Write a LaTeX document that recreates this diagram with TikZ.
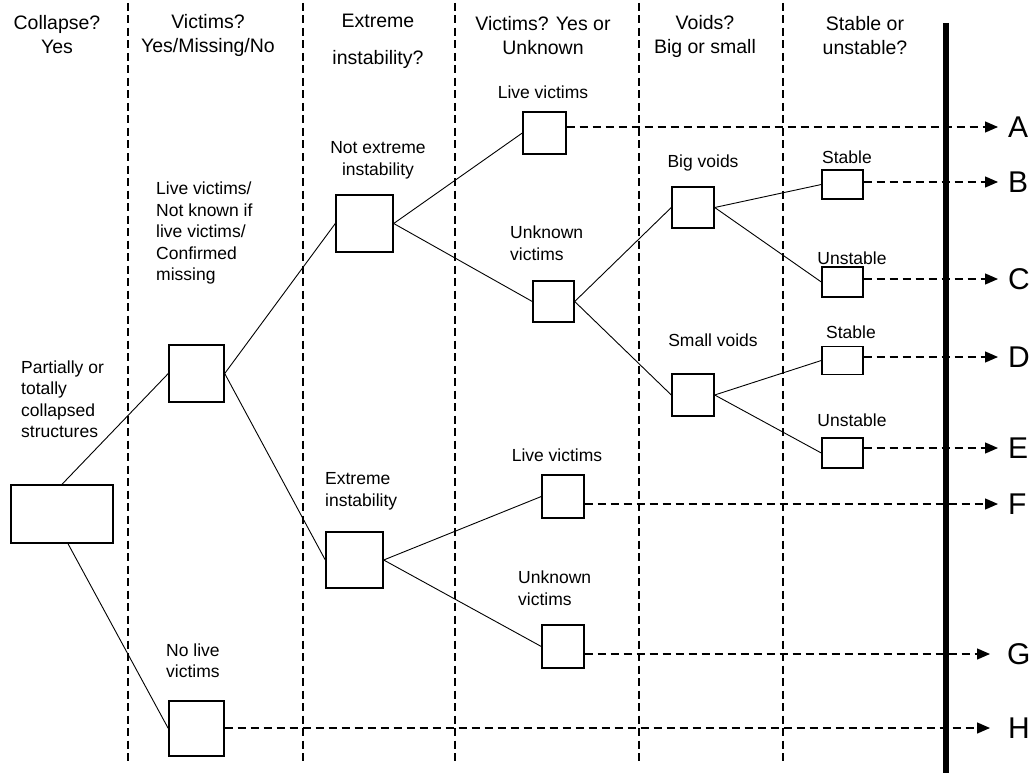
\documentclass[tikz,border=0pt]{standalone}
\usepackage{fontspec}
\setmainfont{Liberation Sans}
\usetikzlibrary{arrows.meta}
\begin{document}
\begin{tikzpicture}[x=1pt,y=-1pt,
  bx/.style={draw, line width=1.4pt, inner sep=0pt},
  hdr/.style={font=\fontsize{19.5}{24}\selectfont, align=center, inner sep=0pt},
  lbl/.style={font=\fontsize{17.5}{21.5}\selectfont, inner sep=0pt},
  ltr/.style={font=\fontsize{30}{30}\selectfont, inner sep=0pt, anchor=west},
  conn/.style={line width=0.9pt},
  vdash/.style={line width=1.1pt, dash pattern=on 8pt off 4.5pt},
  hdash/.style={line width=1.3pt, dash pattern=on 8pt off 5pt},
  arr/.style={hdash, -{Triangle[length=13pt,width=11pt]}}
]
\useasboundingbox (0,0) rectangle (1033,773);

% column separators
\foreach \xx in {128,303,455,639,783}
  \draw[vdash] (\xx,3) -- (\xx,762);
% thick bar
\draw[line width=6pt] (946,23) -- (946,773);

% headers
\node[hdr] (h1) at (57,35) {Collapse?\\Yes};
\node[hdr] (h2) at (208,35) {Victims?\\Yes/Missing/No};
\node[hdr] (h3) at (378,41) {Extreme\\[13pt]instability?};
\node[hdr] (h4) at (543,36) {Victims? Yes or\\Unknown};
\node[hdr] (h5) at (705,36) {Voids?\\Big or small};
\node[hdr] (h6) at (865,35.5) {Stable or\\unstable?};

% boxes
\node[bx, minimum width=102pt, minimum height=58pt] (root) at (62,514) {};
\node[bx, minimum width=55pt, minimum height=57pt] (vic) at (196.5,373.5) {};
\node[bx, minimum width=55pt, minimum height=55pt] (nolive) at (196.5,728.5) {};
\node[bx, minimum width=57pt, minimum height=57pt] (notext) at (364.5,223.5) {};
\node[bx, minimum width=57pt, minimum height=56pt] (ext) at (354.5,560) {};
\node[bx, minimum width=43pt, minimum height=42pt] (liveA) at (544.5,133) {};
\node[bx, minimum width=41pt, minimum height=41pt] (unkT) at (553.5,301.5) {};
\node[bx, minimum width=42pt, minimum height=41pt] (big) at (693,207.5) {};
\node[bx, minimum width=42pt, minimum height=42pt] (small) at (693,395) {};
\node[bx, minimum width=42pt, minimum height=43pt] (liveF) at (563,496.5) {};
\node[bx, minimum width=42pt, minimum height=43pt] (unkB) at (563,646.5) {};
\node[bx, minimum width=41pt, minimum height=29pt] (stB) at (842.5,184.5) {};
\node[bx, minimum width=41pt, minimum height=30pt] (unC) at (842.5,282) {};
\node[bx, minimum width=41pt, minimum height=28pt] (stD) at (842.5,360.5) {};
\node[bx, minimum width=41pt, minimum height=30pt] (unE) at (842.5,453) {};

% labels
\node[lbl, align=left, anchor=west] (lroot) at (21,399) {Partially or\\totally\\collapsed\\structures};
\node[lbl, align=left, anchor=west] (lvic) at (156,233) {Live victims/\\Not known if\\live victims/\\Confirmed\\missing};
\node[lbl, align=left, anchor=west] (lnolive) at (166,660.5) {No live\\victims};
\node[lbl, align=center] (lnotext) at (378,160.5) {Not extreme\\instability};
\node[lbl, align=left, anchor=west] (lext) at (325,491.5) {Extreme\\instability};
\node[lbl] (lliveA) at (543,92) {Live victims};
\node[lbl, align=left, anchor=west] (lunkT) at (510,243) {Unknown\\victims};
\node[lbl] (lliveF) at (557,455) {Live victims};
\node[lbl, align=left, anchor=west] (lunkB) at (518,588) {Unknown\\victims};
\node[lbl] (lbig) at (703,163) {Big voids};
\node[lbl] (lsmall) at (713,340) {Small voids};
\node[lbl] (lstB) at (847,157) {Stable};
\node[lbl] (lunC) at (852,258) {Unstable};
\node[lbl] (lstD) at (851,332) {Stable};
\node[lbl] (lunE) at (852,420) {Unstable};

% outcome letters
\node[ltr] (LA) at (1008,127) {A};
\node[ltr] (LB) at (1008,182) {B};
\node[ltr] (LC) at (1008,279) {C};
\node[ltr] (LD) at (1008,357) {D};
\node[ltr] (LE) at (1008,448) {E};
\node[ltr] (LF) at (1008,504) {F};
\node[ltr] (LG) at (1007,654) {G};
\node[ltr] (LH) at (1008,728) {H};

% tree connectors
\draw[conn] (root.north) -- (vic.west);
\draw[conn] ([xshift=6pt]root.south) -- (nolive.west);
\draw[conn] (vic.east) -- (notext.west);
\draw[conn] (vic.east) -- (ext.west);
\draw[conn] (notext.east) -- (liveA.west);
\draw[conn] (notext.east) -- (unkT.west);
\draw[conn] (ext.east) -- (liveF.west);
\draw[conn] (ext.east) -- (unkB.west);
\draw[conn] (unkT.east) -- (big.west);
\draw[conn] (unkT.east) -- (small.west);
\draw[conn] (big.east) -- (stB.west);
\draw[conn] (big.east) -- (unC.west);
\draw[conn] (small.east) -- (stD.west);
\draw[conn] (small.east) -- (unE.west);

% outcome arrows
\draw[arr] (liveA.east |- LA.west) -- ([xshift=-10pt]LA.west);
\draw[arr] (stB.east |- LB.west) -- ([xshift=-10pt]LB.west);
\draw[arr] (unC.east |- LC.west) -- ([xshift=-10pt]LC.west);
\draw[arr] (stD.east |- LD.west) -- ([xshift=-10pt]LD.west);
\draw[arr] (unE.east |- LE.west) -- ([xshift=-10pt]LE.west);
\draw[arr] (liveF.east |- LF.west) -- ([xshift=-10pt]LF.west);
\draw[arr] (unkB.east |- LG.west) -- ([xshift=-17pt]LG.west);
\draw[arr] (nolive.east |- LH.west) -- ([xshift=-18pt]LH.west);
\end{tikzpicture}
\end{document}
